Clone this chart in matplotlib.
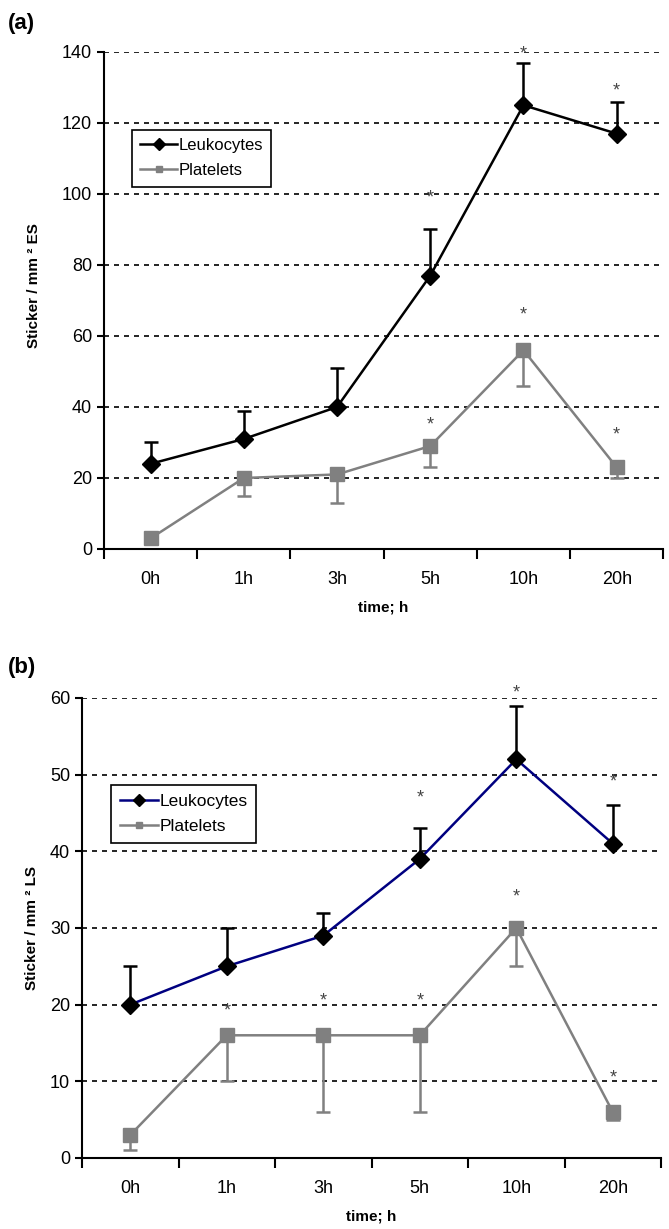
import numpy as np
import matplotlib.pyplot as plt
from matplotlib.lines import Line2D

plt.rcParams['font.family'] = ['Liberation Sans Narrow', 'Liberation Sans', 'DejaVu Sans']

times = ['0h', '1h', '3h', '5h', '10h', '20h']

# panel (a): sticker / mm^2 ES
leuk_a = [24, 31, 40, 77, 125, 117]
leuk_a_err = [6, 8, 11, 13, 12, 9]
plat_a = [3, 20, 21, 29, 56, 23]
plat_a_err = [0, 5, 8, 6, 10, 3]
leuk_a_star = [None, None, None, 99, 139.5, 129]
plat_a_star = [None, None, None, 35, 66, 32]

# panel (b): sticker / mm^2 LS
leuk_b = [20, 25, 29, 39, 52, 41]
leuk_b_err = [5, 5, 3, 4, 7, 5]
plat_b = [3, 16, 16, 16, 30, 6]
plat_b_err = [2, 6, 10, 10, 5, 1]
leuk_b_star = [None, None, None, 47, 60.6, 49]
plat_b_star = [None, 19.2, 20.5, 20.5, 34, 10.4]

gray = '#808080'


def draw(ax, leuk, leuk_err, plat, plat_err, leuk_star, plat_star, ymax, ystep, leuk_color, ylabel):
    x = np.arange(len(times))
    ax.errorbar(x, leuk, yerr=[np.zeros(len(leuk)), leuk_err], color=leuk_color, lw=1.8,
                marker='D', ms=9.5, mfc='black', mec='black', ecolor='black', elinewidth=1.8,
                capsize=5, capthick=1.8, zorder=4)
    ax.errorbar(x, plat, yerr=[plat_err, np.zeros(len(plat))], color=gray, lw=1.8,
                marker='s', ms=10, mfc=gray, mec=gray, ecolor=gray, elinewidth=1.8,
                capsize=5, capthick=1.8, zorder=3)
    for i in range(len(times)):
        if leuk_star[i] is not None:
            ax.text(i, leuk_star[i], '*', ha='center', va='center', fontsize=13, color='#444444')
        if plat_star[i] is not None:
            ax.text(i, plat_star[i], '*', ha='center', va='center', fontsize=13, color='#444444')

    ax.set_xlim(-0.5, len(times) - 0.5)
    ax.set_ylim(0, ymax)
    ax.set_yticks(np.arange(0, ymax + 1, ystep))
    for v in np.arange(ystep, ymax + 1, ystep):
        ax.axhline(v, color='black', ls=(0, (3, 3)), lw=1.2, zorder=1)
    ax.set_xticks(x)
    ax.set_xticklabels(times)
    ax.set_xticks(np.arange(-0.5, len(times)), minor=True)
    ax.tick_params(axis='x', which='major', length=0, pad=16, labelsize=13)
    ax.tick_params(axis='x', which='minor', length=7, width=1.5, direction='out')
    ax.tick_params(axis='y', length=5, width=1.5, direction='out', labelsize=13)
    for s in ['top', 'right']:
        ax.spines[s].set_visible(False)
    for s in ['left', 'bottom']:
        ax.spines[s].set_linewidth(1.5)
    ax.set_xlabel('time; h', fontweight='bold', fontsize=11, labelpad=9,
                  family=['Liberation Sans', 'DejaVu Sans'])
    ax.set_ylabel(ylabel, fontweight='bold', fontsize=11, labelpad=12,
                  family=['Liberation Sans', 'DejaVu Sans'])

    handles = [Line2D([], [], color=leuk_color, lw=1.8, marker='D', ms=6, mfc='black', mec='black'),
               Line2D([], [], color=gray, lw=1.8, marker='s', ms=5, mfc=gray, mec=gray)]
    return handles


fig = plt.figure(figsize=(6.69, 12.29), dpi=100)

ax1 = fig.add_axes([0.1555, 0.5533, 0.836, 0.4044])
h = draw(ax1, leuk_a, leuk_a_err, plat_a, plat_a_err, leuk_a_star, plat_a_star, 140, 20, 'black',
         'Sticker / mm ² ES')
ax1.yaxis.set_label_coords(-0.113, 0.53)
leg = ax1.legend(h, ['Leukocytes', 'Platelets'], loc='upper left', bbox_to_anchor=(0.035, 0.86),
                 fancybox=False, edgecolor='black', framealpha=1, fontsize=12,
                 handlelength=2.2, handletextpad=0.1, borderpad=0.5, labelspacing=0.6)
leg.get_frame().set_linewidth(1.2)
leg.set_zorder(5)

ax2 = fig.add_axes([0.1226, 0.0578, 0.8655, 0.3743])
h = draw(ax2, leuk_b, leuk_b_err, plat_b, plat_b_err, leuk_b_star, plat_b_star, 60, 10, '#000080',
         'Sticker / mm ² LS')
ax2.yaxis.set_label_coords(-0.075, 0.5)
leg = ax2.legend(h, ['Leukocytes', 'Platelets'], loc='upper left', bbox_to_anchor=(0.035, 0.83),
                 fancybox=False, edgecolor='black', framealpha=1, fontsize=12.5,
                 handlelength=2.2, handletextpad=0.1, borderpad=0.5, labelspacing=0.6)
leg.get_frame().set_linewidth(1.2)
leg.set_zorder(5)

fig.text(0.012, 0.981, '(a)', fontsize=16, fontweight='bold', va='center',
         family=['Liberation Sans', 'DejaVu Sans'])
fig.text(0.012, 0.4565, '(b)', fontsize=16, fontweight='bold', va='center',
         family=['Liberation Sans', 'DejaVu Sans'])

fig.savefig('out.png', dpi=100)
